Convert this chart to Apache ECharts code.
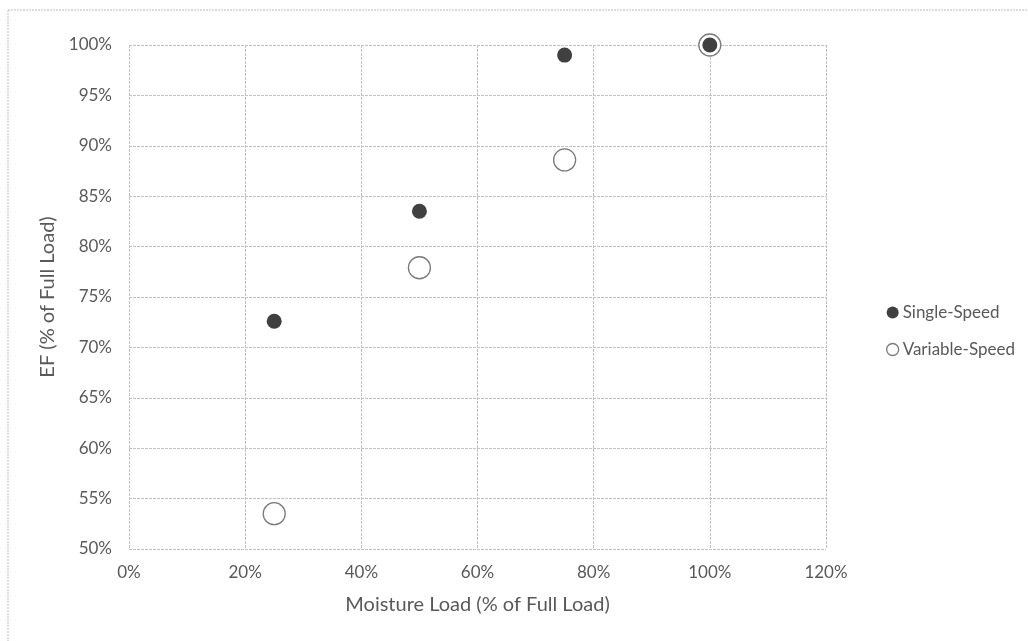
<!DOCTYPE html>
<html>
<head>
<meta charset="utf-8">
<script src="https://cdn.jsdelivr.net/npm/echarts@6/dist/echarts.min.js"></script>
<style>
html,body{margin:0;padding:0;background:#fff;}
#chart{width:1028px;height:641px;}
</style>
</head>
<body>
<div id="chart"></div>
<script>
const moistureLoad = [25, 50, 75, 100];
const singleSpeed = [72.6, 83.5, 99.0, 100.0];
const variableSpeed = [53.5, 77.9, 88.6, 100.0];
const seriesNames = ['Single-Speed', 'Variable-Speed'];
const xTitle = 'Moisture Load (% of Full Load)';
const yTitle = 'EF (% of Full Load)';

const FONT = 'Lato, "Open Sans", sans-serif';
const TXT = '#595959';
const chart = echarts.init(document.getElementById('chart'));
chart.setOption({
  backgroundColor: '#fff',
  animation: false,
  textStyle: { fontFamily: FONT },
  graphic: [
    { type: 'line', shape: { x1: 8, y1: 10, x2: 1028, y2: 10 }, style: { stroke: '#bdbdbd', lineWidth: 1, lineDash: [2, 1] } },
    { type: 'line', shape: { x1: 8, y1: 10, x2: 8, y2: 641 }, style: { stroke: '#bdbdbd', lineWidth: 1, lineDash: [2, 1] } }
  ],
  grid: { left: 129, right: 1028 - 826, top: 45, bottom: 641 - 549, containLabel: false },
  legend: {
    orient: 'vertical',
    left: 881, top: 299,
    itemGap: 20,
    itemWidth: 12, itemHeight: 12,
    textStyle: { fontFamily: FONT, fontSize: 17, color: TXT, padding: [0, 0, 0, -1] },
    data: [
      { name: seriesNames[0], icon: 'circle', itemStyle: { color: '#404040', borderWidth: 0 } },
      { name: seriesNames[1], icon: 'circle', itemStyle: { color: '#fff', borderColor: '#7a7a7a', borderWidth: 1.3 } }
    ]
  },
  xAxis: {
    type: 'value', min: 0, max: 120, interval: 20,
    name: xTitle, nameLocation: 'middle', nameGap: 46,
    nameTextStyle: { fontFamily: FONT, fontSize: 20, color: TXT },
    axisLine: { show: false }, axisTick: { show: false },
    axisLabel: { formatter: v => v + '%', fontFamily: FONT, fontSize: 17, color: TXT, margin: 15 },
    splitLine: { show: true, lineStyle: { color: '#c2c2c2', width: 1, type: [3, 1] } }
  },
  yAxis: {
    type: 'value', min: 50, max: 100, interval: 5,
    name: yTitle, nameLocation: 'middle', nameGap: 67,
    nameTextStyle: { fontFamily: FONT, fontSize: 20, color: TXT },
    axisLine: { show: false }, axisTick: { show: false },
    axisLabel: { formatter: v => v + '%', fontFamily: FONT, fontSize: 17, color: TXT, margin: 17 },
    splitLine: { show: true, lineStyle: { color: '#c2c2c2', width: 1, type: [3, 1] } }
  },
  series: [
    {
      name: seriesNames[1], type: 'scatter', symbol: 'circle', symbolSize: 22, z: 2,
      itemStyle: { color: '#fff', borderColor: '#7a7a7a', borderWidth: 1.3, opacity: 1 },
      data: moistureLoad.map((x, i) => [x, variableSpeed[i]])
    },
    {
      name: seriesNames[0], type: 'scatter', symbol: 'circle', symbolSize: 15, z: 3,
      itemStyle: { color: '#404040', opacity: 1 },
      data: moistureLoad.map((x, i) => [x, singleSpeed[i]])
    }
  ]
});
</script>
</body>
</html>
